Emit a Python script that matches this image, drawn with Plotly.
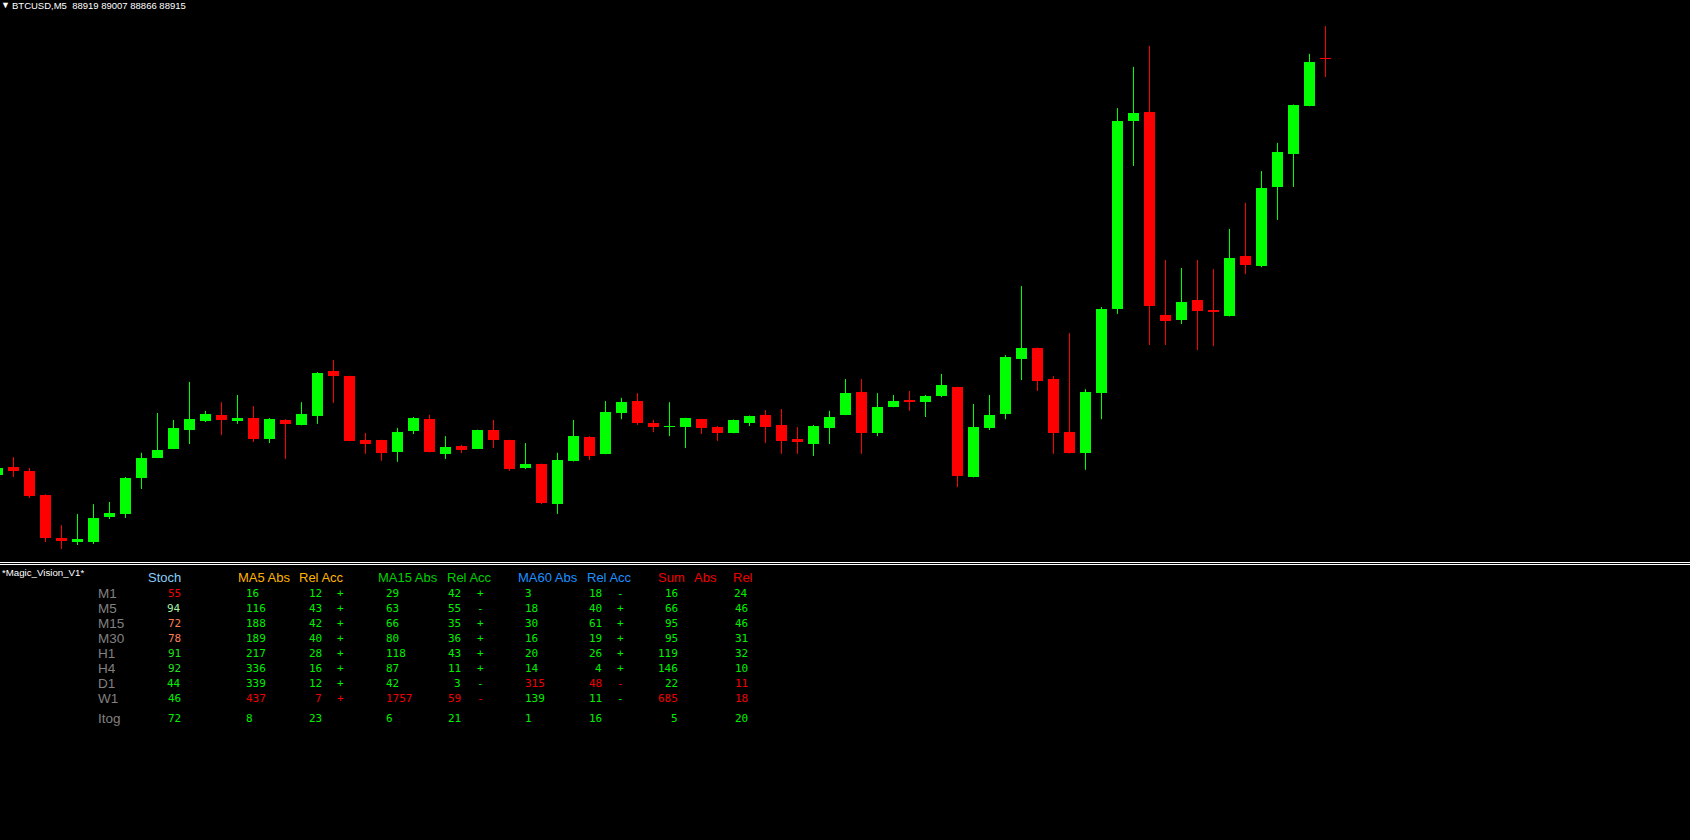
import plotly.graph_objects as go

# ---------------- chart data (BTCUSD, M5) ----------------
SYMBOL_TITLE = "BTCUSD,M5  88919 89007 88866 88915"
opens = [87766, 87788, 87777, 87710, 87591, 87580, 87580, 87650, 87658, 87757,
         87813, 87838, 87890, 87915, 87932, 87915, 87923, 87865, 87918, 87904,
         87929, 88053, 88039, 87862, 87862, 87829, 87887, 87920, 87824, 87846,
         87838, 87890, 87862, 87785, 87796, 87685, 87804, 87871, 87824, 87937,
         87970, 87909, 87898, 87898, 87920, 87898, 87882, 87909, 87932, 87904,
         87865, 87851, 87896, 87932, 87995, 87882, 87954, 87973, 87967, 87984,
         88009, 87760, 87896, 87934, 88086, 88117, 88031, 87885, 87826, 87992,
         88225, 88744, 88769, 88208, 88194, 88250, 88222, 88205, 88371, 88343,
         88562, 88653, 88786, 88919]
highs = [87789, 87815, 87785, 87712, 87627, 87658, 87685, 87691, 87760, 87827,
         87937, 87918, 88023, 87943, 87967, 87987, 87956, 87923, 87920, 87967,
         88050, 88084, 88040, 87882, 87863, 87896, 87926, 87932, 87873, 87849,
         87891, 87918, 87863, 87854, 87797, 87827, 87918, 87873, 87970, 87979,
         87992, 87918, 87967, 87924, 87921, 87901, 87919, 87930, 87945, 87948,
         87898, 87904, 87943, 88031, 88031, 87992, 87987, 87998, 87987, 88045,
         88010, 87962, 87987, 88097, 88288, 88118, 88039, 88158, 88003, 88230,
         88780, 88894, 88952, 88360, 88338, 88360, 88335, 88446, 88518, 88606,
         88684, 88790, 88930, 89007]
lows = [87765, 87760, 87702, 87580, 87561, 87572, 87575, 87644, 87647, 87727,
        87812, 87837, 87851, 87912, 87876, 87907, 87857, 87854, 87810, 87903,
        87907, 87965, 87859, 87824, 87805, 87802, 87879, 87828, 87810, 87826,
        87837, 87840, 87777, 87782, 87685, 87658, 87803, 87807, 87823, 87920,
        87904, 87884, 87873, 87840, 87879, 87860, 87881, 87901, 87854, 87824,
        87824, 87818, 87851, 87931, 87824, 87873, 87953, 87943, 87926, 87981,
        87732, 87759, 87890, 87920, 88028, 87998, 87824, 87825, 87780, 87920,
        88211, 88620, 88125, 88125, 88183, 88111, 88122, 88204, 88321, 88340,
        88471, 88562, 88785, 88866]
closes = [87786, 87777, 87708, 87591, 87583, 87589, 87647, 87661, 87757, 87813,
          87835, 87896, 87920, 87934, 87918, 87923, 87865, 87920, 87907, 87934,
          88048, 88039, 87860, 87851, 87826, 87885, 87923, 87829, 87843, 87835,
          87890, 87862, 87782, 87796, 87688, 87807, 87873, 87818, 87940, 87967,
          87909, 87898, 87901, 87923, 87896, 87882, 87918, 87929, 87898, 87860,
          87857, 87901, 87926, 87992, 87882, 87954, 87970, 87967, 87984, 88015,
          87763, 87898, 87932, 88092, 88117, 88025, 87882, 87826, 87995, 88225,
          88744, 88766, 88233, 88191, 88244, 88219, 88216, 88366, 88346, 88559,
          88659, 88789, 88908, 88915]

# ---------------- indicator table data ----------------
INDICATOR_NAME = "*Magic_Vision_V1*"
timeframes = ["M1", "M5", "M15", "M30", "H1", "H4", "D1", "W1"]
total_label = "Itog"
stoch = [55, 94, 72, 78, 91, 92, 44, 46]
stoch_total = 72
ma5_abs = [16, 116, 188, 189, 217, 336, 339, 437]
ma5_rel = [12, 43, 42, 40, 28, 16, 12, 7]
ma5_acc = ["+", "+", "+", "+", "+", "+", "+", "+"]
ma5_bear = [0, 0, 0, 0, 0, 0, 0, 1]
ma15_abs = [29, 63, 66, 80, 118, 87, 42, 1757]
ma15_rel = [42, 55, 35, 36, 43, 11, 3, 59]
ma15_acc = ["+", "-", "+", "+", "+", "+", "-", "-"]
ma15_bear = [0, 0, 0, 0, 0, 0, 0, 1]
ma60_abs = [3, 18, 30, 16, 20, 14, 315, 139]
ma60_rel = [18, 40, 61, 19, 26, 4, 48, 11]
ma60_acc = ["-", "+", "+", "+", "+", "+", "-", "-"]
ma60_bear = [0, 0, 0, 0, 0, 0, 1, 0]
sum_abs = [16, 66, 95, 95, 119, 146, 22, 685]
sum_abs_bear = [0, 0, 0, 0, 0, 0, 0, 1]
sum_rel = [24, 46, 46, 31, 32, 10, 11, 18]
sum_rel_bear = [0, 0, 0, 0, 0, 0, 1, 1]
totals = {"ma5_abs": 8, "ma5_rel": 23, "ma15_abs": 6, "ma15_rel": 21,
          "ma60_abs": 1, "ma60_rel": 16, "sum_abs": 5, "sum_rel": 20}
headers = ["Stoch", "MA5 Abs", "Rel Acc", "MA15 Abs", "Rel Acc",
           "MA60 Abs", "Rel Acc", "Sum", "Abs", "Rel"]

# ---------------- styles ----------------
W, H = 1690, 840
UP, DN = "#00FF00", "#FF0000"
VAL_GREEN, VAL_RED = "#00F000", "#F00000"
stoch_colors = ["#F00000", "#A8F0A8", "#FF7F50", "#FF7F50", "#22E022",
                "#22E022", "#00F000", "#00F000"]
header_colors = ["#87CEFA", "#FFB400", "#FFB400", "#00D000", "#00D000",
                 "#1E90FF", "#1E90FF", "#F00000", "#F00000", "#F00000"]
header_x = [147, 237, 298, 377, 446, 517, 586, 657, 693, 732]
LABEL_FONT = "Liberation Sans, Arial, sans-serif"
VAL_FONT = "DejaVu Sans Mono, monospace"

idx = list(range(len(opens)))
is_up = [c >= o for o, c in zip(opens, closes)]

fig = go.Figure()

# wicks
for up, col in ((True, UP), (False, DN)):
    xs, ys = [], []
    for i in idx:
        if is_up[i] == up:
            xs += [i, i, None]
            ys += [lows[i], highs[i], None]
    fig.add_trace(go.Scatter(x=xs, y=ys, mode="lines",
                             line=dict(color=col, width=1),
                             hoverinfo="skip", showlegend=False))

# bodies
bases = [min(o, c) for o, c in zip(opens, closes)]
heights = [max(abs(c - o), 1.5) for o, c in zip(opens, closes)]
fig.add_trace(go.Bar(x=idx, y=heights, base=bases, width=0.6875,
                     marker=dict(color=[UP if u else DN for u in is_up],
                                 line=dict(width=0)),
                     hoverinfo="skip", showlegend=False))

# price pane geometry (pixels of the main pane)
PANE_BOTTOM = 560
y_top, y_bot = 89079, 87530.6
fig.update_layout(
    width=W, height=H,
    margin=dict(l=0, r=0, t=0, b=0),
    paper_bgcolor="black", plot_bgcolor="black",
    showlegend=False, bargap=0,
    xaxis=dict(visible=False, range=[0.15625, 0.15625 + W / 16],
               domain=[0, 1], fixedrange=True),
    yaxis=dict(visible=False, range=[y_bot, y_top],
               domain=[1 - PANE_BOTTOM / H, 1], fixedrange=True),
)


def px(x):
    return x / W


def py(y):
    return 1 - y / H


annotations = []


def add_text(text, x, y, color, size, font=LABEL_FONT, anchor="left"):
    annotations.append(dict(
        text=text, x=px(x), y=py(y), xref="paper", yref="paper",
        xanchor=anchor, yanchor="middle", showarrow=False, borderpad=0,
        font=dict(family=font, size=size, color=color)))


# top-left symbol caption
add_text("▼", 0, 5.5, "white", 9)
add_text(SYMBOL_TITLE, 11, 6, "white", 9.5)

# separator lines between panes
shapes = []
for yy in (562.5, 564.5):
    shapes.append(dict(type="line", xref="paper", yref="paper",
                       x0=0, x1=1, y0=py(yy), y1=py(yy),
                       line=dict(color="#FFFFFF", width=1)))

# indicator caption
add_text(INDICATOR_NAME, 1, 572.5, "white", 9.7)

# headers
for t, hx, hc in zip(headers, header_x, header_colors):
    add_text(t, hx, 577.5, hc, 13)

ROW_Y0, ROW_DY = 593.5, 15
VS = 11
for r, tf in enumerate(timeframes):
    yy = ROW_Y0 + r * ROW_DY
    add_text(tf, 97, yy, "#808080", 13.5)
    add_text(str(stoch[r]), 182, yy, stoch_colors[r], VS, VAL_FONT, "right")
    c5 = VAL_RED if ma5_bear[r] else VAL_GREEN
    add_text(str(ma5_abs[r]), 244.5, yy, c5, VS, VAL_FONT)
    add_text(str(ma5_rel[r]), 322.5, yy, c5, VS, VAL_FONT, "right")
    add_text(ma5_acc[r], 340.5, yy, c5, VS, VAL_FONT, "center")
    c15 = VAL_RED if ma15_bear[r] else VAL_GREEN
    add_text(str(ma15_abs[r]), 384.5, yy, c15, VS, VAL_FONT)
    add_text(str(ma15_rel[r]), 462, yy, c15, VS, VAL_FONT, "right")
    add_text(ma15_acc[r], 480.5, yy, c15, VS, VAL_FONT, "center")
    c60 = VAL_RED if ma60_bear[r] else VAL_GREEN
    add_text(str(ma60_abs[r]), 523.5, yy, c60, VS, VAL_FONT)
    add_text(str(ma60_rel[r]), 602.5, yy, c60, VS, VAL_FONT, "right")
    add_text(ma60_acc[r], 620.5, yy, c60, VS, VAL_FONT, "center")
    cs = VAL_RED if sum_abs_bear[r] else VAL_GREEN
    add_text(str(sum_abs[r]), 678.5, yy, cs, VS, VAL_FONT, "right")
    cr = VAL_RED if sum_rel_bear[r] else VAL_GREEN
    add_text(str(sum_rel[r]), 748.5, yy, cr, VS, VAL_FONT, "right")

# totals row
yt = 718.5
add_text(total_label, 97, yt, "#808080", 13.5)
add_text(str(stoch_total), 182, yt, VAL_GREEN, VS, VAL_FONT, "right")
add_text(str(totals["ma5_abs"]), 244.5, yt, VAL_GREEN, VS, VAL_FONT)
add_text(str(totals["ma5_rel"]), 322.5, yt, VAL_GREEN, VS, VAL_FONT, "right")
add_text(str(totals["ma15_abs"]), 384.5, yt, VAL_GREEN, VS, VAL_FONT)
add_text(str(totals["ma15_rel"]), 462, yt, VAL_GREEN, VS, VAL_FONT, "right")
add_text(str(totals["ma60_abs"]), 523.5, yt, VAL_GREEN, VS, VAL_FONT)
add_text(str(totals["ma60_rel"]), 602.5, yt, VAL_GREEN, VS, VAL_FONT, "right")
add_text(str(totals["sum_abs"]), 678.5, yt, VAL_GREEN, VS, VAL_FONT, "right")
add_text(str(totals["sum_rel"]), 748.5, yt, VAL_GREEN, VS, VAL_FONT, "right")

fig.update_layout(annotations=annotations, shapes=shapes)

fig.write_html(
    "out.html",
    config={"displayModeBar": False, "staticPlot": True},
    post_script="document.body.style.margin='0px';"
                "document.body.style.background='black';",
)
